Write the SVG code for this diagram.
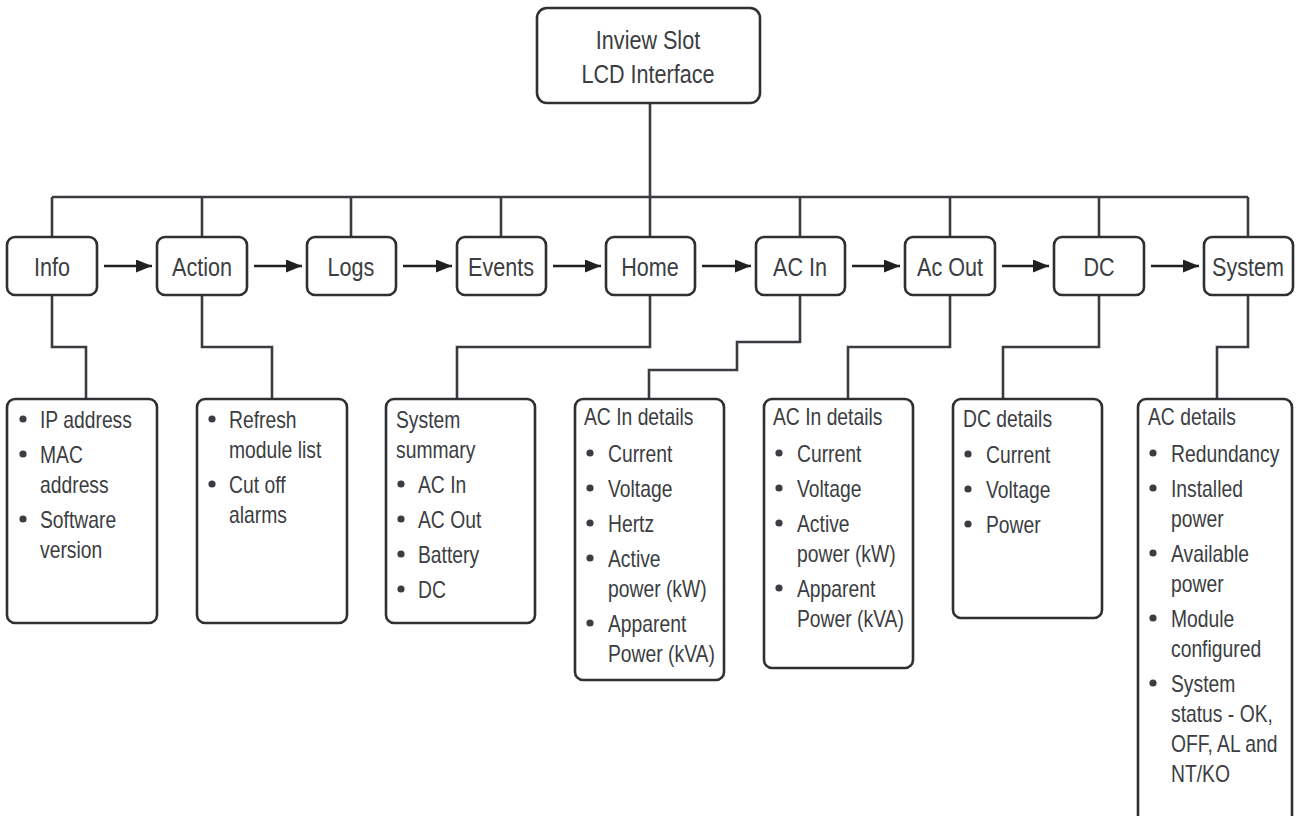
<svg xmlns="http://www.w3.org/2000/svg" width="1296" height="816" viewBox="0 0 1296 816">
<style>
.box{fill:#fff;stroke:#2f3033;stroke-width:2.6}
.ln{fill:none;stroke:#3a3c40;stroke-width:2.6}
.ar{fill:none;stroke:#1f2022;stroke-width:2.6}
text{font-family:"Liberation Sans",Arial,sans-serif;fill:#3b3d42}
.t{font-size:26px;text-anchor:middle}
.d{font-size:23px}
.b{fill:#3b3d42}
</style>
<defs>
<marker id="ah" markerUnits="userSpaceOnUse" markerWidth="18" markerHeight="14" refX="16" refY="6.5" orient="auto">
<path d="M0,0 L16,6.5 L0,13 z" fill="#1f2022"/>
</marker>
</defs>
<g id="connectors">
<path class="ln" d="M650,103 V197 M52,197 H1248 M52,197 V237 M202,197 V237 M351,197 V237 M501,197 V237 M650,197 V237 M800,197 V237 M950,197 V237 M1099,197 V237 M1248,197 V237"/>
<path class="ar" marker-end="url(#ah)" d="M104,266 H152"/>
<path class="ar" marker-end="url(#ah)" d="M254,266 H302"/>
<path class="ar" marker-end="url(#ah)" d="M403,266 H452"/>
<path class="ar" marker-end="url(#ah)" d="M553,266 H601"/>
<path class="ar" marker-end="url(#ah)" d="M702,266 H751"/>
<path class="ar" marker-end="url(#ah)" d="M852,266 H900"/>
<path class="ar" marker-end="url(#ah)" d="M1002,266 H1049"/>
<path class="ar" marker-end="url(#ah)" d="M1151,266 H1199"/>
<path class="ln" d="M52,295 V347 H86 V399"/>
<path class="ln" d="M202,295 V347 H272 V399"/>
<path class="ln" d="M650,295 V347 H457 V399"/>
<path class="ln" d="M800,295 V342 H737 V370 H649 V399"/>
<path class="ln" d="M950,295 V347 H848 V399"/>
<path class="ln" d="M1099,295 V347 H1003 V399"/>
<path class="ln" d="M1248,295 V347 H1217 V399"/>
</g>
<g id="root">
<rect class="box" x="537" y="8" width="223" height="95" rx="10"/>
<text class="t" transform="translate(648 49) scale(.83 1)">Inview Slot</text>
<text class="t" transform="translate(648 83) scale(.83 1)">LCD Interface</text>
</g>
<g id="n-info"><rect class="box" x="7" y="237" width="90" height="58" rx="8"/><text class="t" transform="translate(52 276) scale(.83 1)">Info</text></g>
<g id="n-action"><rect class="box" x="157" y="237" width="90" height="58" rx="8"/><text class="t" transform="translate(202 276) scale(.83 1)">Action</text></g>
<g id="n-logs"><rect class="box" x="307" y="237" width="89" height="58" rx="8"/><text class="t" transform="translate(351 276) scale(.83 1)">Logs</text></g>
<g id="n-events"><rect class="box" x="457" y="237" width="89" height="58" rx="8"/><text class="t" transform="translate(501 276) scale(.83 1)">Events</text></g>
<g id="n-home"><rect class="box" x="606" y="237" width="89" height="58" rx="8"/><text class="t" transform="translate(650 276) scale(.83 1)">Home</text></g>
<g id="n-acin"><rect class="box" x="756" y="237" width="89" height="58" rx="8"/><text class="t" transform="translate(800 276) scale(.83 1)">AC In</text></g>
<g id="n-acout"><rect class="box" x="905" y="237" width="90" height="58" rx="8"/><text class="t" transform="translate(950 276) scale(.83 1)">Ac Out</text></g>
<g id="n-dc"><rect class="box" x="1054" y="237" width="90" height="58" rx="8"/><text class="t" transform="translate(1099 276) scale(.83 1)">DC</text></g>
<g id="n-system"><rect class="box" x="1204" y="237" width="89" height="58" rx="8"/><text class="t" transform="translate(1248 276) scale(.83 1)">System</text></g>

<g id="d-info">
<rect class="box" x="7" y="399" width="150" height="224" rx="8"/>
<circle class="b" cx="23" cy="419" r="3.6"/><circle class="b" cx="23" cy="454" r="3.6"/><circle class="b" cx="23" cy="519" r="3.6"/>
<text class="d" transform="translate(40 428) scale(.84 1)">IP address</text>
<text class="d" transform="translate(40 463) scale(.84 1)">MAC</text>
<text class="d" transform="translate(40 493) scale(.84 1)">address</text>
<text class="d" transform="translate(40 528) scale(.84 1)">Software</text>
<text class="d" transform="translate(40 558) scale(.84 1)">version</text>
</g>
<g id="d-action">
<rect class="box" x="197" y="399" width="150" height="224" rx="8"/>
<circle class="b" cx="212" cy="419" r="3.6"/><circle class="b" cx="212" cy="484" r="3.6"/>
<text class="d" transform="translate(229 428) scale(.84 1)">Refresh</text>
<text class="d" transform="translate(229 458) scale(.84 1)">module list</text>
<text class="d" transform="translate(229 493) scale(.84 1)">Cut off</text>
<text class="d" transform="translate(229 523) scale(.84 1)">alarms</text>
</g>
<g id="d-home">
<rect class="box" x="386" y="399" width="149" height="224" rx="8"/>
<text class="d" transform="translate(396 428) scale(.84 1)">System</text>
<text class="d" transform="translate(396 458) scale(.84 1)">summary</text>
<circle class="b" cx="401" cy="484" r="3.6"/><circle class="b" cx="401" cy="519" r="3.6"/><circle class="b" cx="401" cy="554" r="3.6"/><circle class="b" cx="401" cy="589" r="3.6"/>
<text class="d" transform="translate(418 493) scale(.84 1)">AC In</text>
<text class="d" transform="translate(418 528) scale(.84 1)">AC Out</text>
<text class="d" transform="translate(418 563) scale(.84 1)">Battery</text>
<text class="d" transform="translate(418 598) scale(.84 1)">DC</text>
</g>
<g id="d-acin">
<rect class="box" x="575" y="399" width="149" height="281" rx="8"/>
<text class="d" transform="translate(584 425) scale(.84 1)">AC In details</text>
<circle class="b" cx="590" cy="453" r="3.6"/><circle class="b" cx="590" cy="488" r="3.6"/><circle class="b" cx="590" cy="523" r="3.6"/><circle class="b" cx="590" cy="558" r="3.6"/><circle class="b" cx="590" cy="623" r="3.6"/>
<text class="d" transform="translate(608 462) scale(.84 1)">Current</text>
<text class="d" transform="translate(608 497) scale(.84 1)">Voltage</text>
<text class="d" transform="translate(608 532) scale(.84 1)">Hertz</text>
<text class="d" transform="translate(608 567) scale(.84 1)">Active</text>
<text class="d" transform="translate(608 597) scale(.84 1)">power (kW)</text>
<text class="d" transform="translate(608 632) scale(.84 1)">Apparent</text>
<text class="d" transform="translate(608 662) scale(.84 1)">Power (kVA)</text>
</g>
<g id="d-acout">
<rect class="box" x="764" y="399" width="149" height="269" rx="8"/>
<text class="d" transform="translate(773 425) scale(.84 1)">AC In details</text>
<circle class="b" cx="779" cy="453" r="3.6"/><circle class="b" cx="779" cy="488" r="3.6"/><circle class="b" cx="779" cy="523" r="3.6"/><circle class="b" cx="779" cy="588" r="3.6"/>
<text class="d" transform="translate(797 462) scale(.84 1)">Current</text>
<text class="d" transform="translate(797 497) scale(.84 1)">Voltage</text>
<text class="d" transform="translate(797 532) scale(.84 1)">Active</text>
<text class="d" transform="translate(797 562) scale(.84 1)">power (kW)</text>
<text class="d" transform="translate(797 597) scale(.84 1)">Apparent</text>
<text class="d" transform="translate(797 627) scale(.84 1)">Power (kVA)</text>
</g>
<g id="d-dc">
<rect class="box" x="953" y="399" width="149" height="219" rx="8"/>
<text class="d" transform="translate(963 427) scale(.84 1)">DC details</text>
<circle class="b" cx="968" cy="454" r="3.6"/><circle class="b" cx="968" cy="489" r="3.6"/><circle class="b" cx="968" cy="524" r="3.6"/>
<text class="d" transform="translate(986 463) scale(.84 1)">Current</text>
<text class="d" transform="translate(986 498) scale(.84 1)">Voltage</text>
<text class="d" transform="translate(986 533) scale(.84 1)">Power</text>
</g>
<g id="d-system">
<rect class="box" x="1138" y="399" width="154" height="440" rx="8"/>
<text class="d" transform="translate(1148 425) scale(.84 1)">AC details</text>
<circle class="b" cx="1153" cy="453" r="3.6"/><circle class="b" cx="1153" cy="488" r="3.6"/><circle class="b" cx="1153" cy="553" r="3.6"/><circle class="b" cx="1153" cy="618" r="3.6"/><circle class="b" cx="1153" cy="683" r="3.6"/>
<text class="d" transform="translate(1171 462) scale(.84 1)">Redundancy</text>
<text class="d" transform="translate(1171 497) scale(.84 1)">Installed</text>
<text class="d" transform="translate(1171 527) scale(.84 1)">power</text>
<text class="d" transform="translate(1171 562) scale(.84 1)">Available</text>
<text class="d" transform="translate(1171 592) scale(.84 1)">power</text>
<text class="d" transform="translate(1171 627) scale(.84 1)">Module</text>
<text class="d" transform="translate(1171 657) scale(.84 1)">configured</text>
<text class="d" transform="translate(1171 692) scale(.84 1)">System</text>
<text class="d" transform="translate(1171 722) scale(.84 1)">status - OK,</text>
<text class="d" transform="translate(1171 752) scale(.84 1)">OFF, AL and</text>
<text class="d" transform="translate(1171 782) scale(.84 1)">NT/KO</text>
</g>
</svg>
